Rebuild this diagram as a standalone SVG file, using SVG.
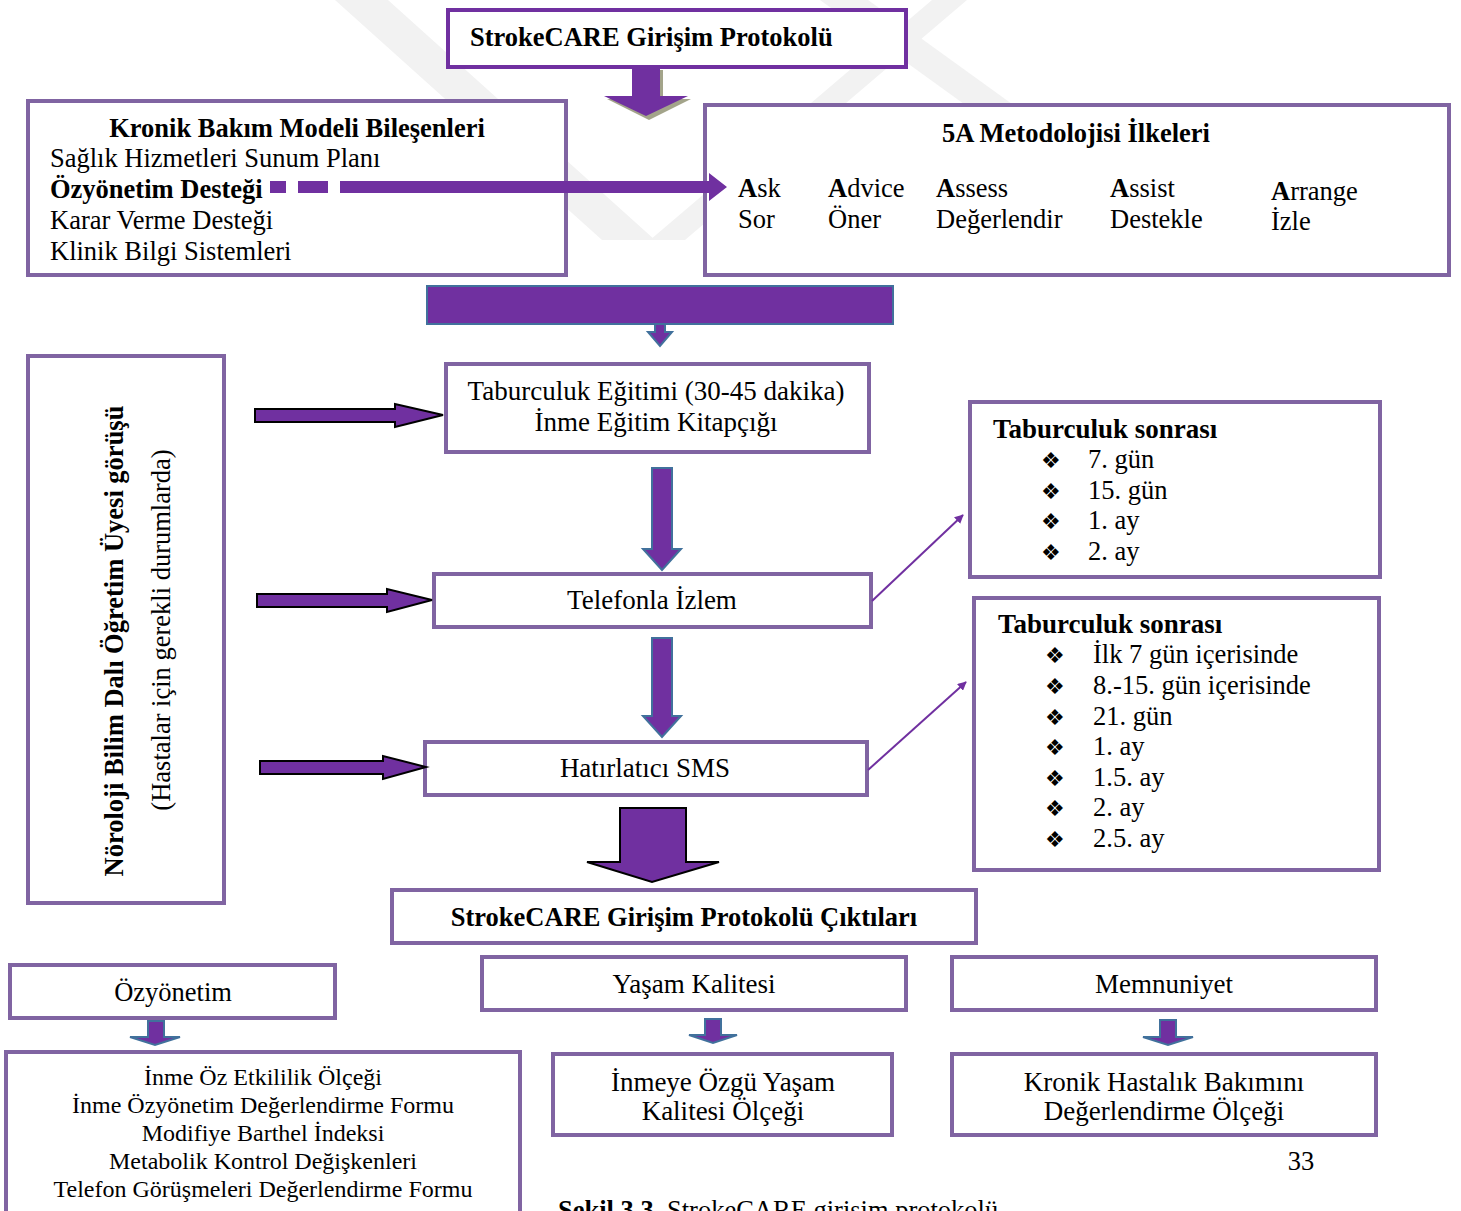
<svg xmlns="http://www.w3.org/2000/svg" width="1461" height="1211" viewBox="0 0 1461 1211">
<style>
text{font-family:"Liberation Serif","Times New Roman",serif;fill:#000;font-size:26.5px;}
.b{font-weight:bold;}
.f{font-size:27px;}
.s{font-size:24px;}
.box{fill:#fff;stroke:#8064a2;stroke-width:4;}
.tbox{fill:#fff;stroke:#7030a0;stroke-width:4;}
.blk{fill:#7030a0;stroke:#000;stroke-width:2;stroke-linejoin:miter;}
.blu{fill:#7030a0;stroke:#41719c;stroke-width:2;}
.thin{stroke:#7030a0;stroke-width:2;fill:none;}
.bul{font-family:"DejaVu Sans",sans-serif;font-size:22px;}
.wm{fill:#f2f2f2;}
</style>
<defs>
<marker id="ah" viewBox="0 0 10 10" refX="9" refY="5" markerWidth="9" markerHeight="9" markerUnits="userSpaceOnUse" orient="auto">
<path d="M0,0 L10,5 L0,10 Z" fill="#7030a0"/>
</marker>
</defs>
<rect width="1461" height="1211" fill="#fff"/>
<g id="watermark">
<polygon class="wm" points="335,0 388,0 655,240 602,240"/>
<polygon class="wm" points="932,0 967,0 685,240 650,240"/>
<polygon class="wm" points="820,0 868,0 1012,104 964,104"/>
</g>
<g id="title">
<rect class="tbox" x="448" y="10" width="458" height="57"/>
<text class="b" x="470" y="46">StrokeCARE Girişim Protokolü</text>
</g>
<g id="kronik">
<rect class="box" x="28" y="101" width="538" height="174"/>
<text class="b" x="297" y="137" text-anchor="middle">Kronik Bakım Modeli Bileşenleri</text>
<text x="50" y="167">Sağlık Hizmetleri Sunum Planı</text>
<text class="b" x="50" y="198">Özyönetim Desteği</text>
<text x="50" y="229">Karar Verme Desteği</text>
<text x="50" y="260">Klinik Bilgi Sistemleri</text>
</g>
<g id="fiveA">
<rect class="box" x="705" y="105" width="744" height="170"/>
<text class="b" x="1076" y="142" text-anchor="middle">5A Metodolojisi İlkeleri</text>
<text x="738" y="197"><tspan class="b">A</tspan>sk</text>
<text x="738" y="228">Sor</text>
<text x="828" y="197"><tspan class="b">A</tspan>dvice</text>
<text x="828" y="228">Öner</text>
<text x="936" y="197"><tspan class="b">A</tspan>ssess</text>
<text x="936" y="228">Değerlendir</text>
<text x="1110" y="197"><tspan class="b">A</tspan>ssist</text>
<text x="1110" y="228">Destekle</text>
<text x="1271" y="200"><tspan class="b">A</tspan>rrange</text>
<text x="1271" y="230">İzle</text>
</g>
<g id="noroloji">
<rect class="box" x="28" y="356" width="196" height="547"/>
<text class="b" x="0" y="0" text-anchor="middle" transform="translate(123,641) rotate(-90)">Nöroloji Bilim Dalı Öğretim Üyesi görüşü</text>
<text x="0" y="0" text-anchor="middle" transform="translate(170,630) rotate(-90)">(Hastalar için gerekli durumlarda)</text>
</g>
<g id="egitim">
<rect class="box" x="446" y="364" width="423" height="88"/>
<text class="f" x="656" y="400" text-anchor="middle">Taburculuk Eğitimi (30-45 dakika)</text>
<text class="f" x="656" y="431" text-anchor="middle">İnme Eğitim Kitapçığı</text>
</g>
<g id="telefon">
<rect class="box" x="434" y="574" width="437" height="53"/>
<text class="f" x="652" y="609" text-anchor="middle">Telefonla İzlem</text>
</g>
<g id="sms">
<rect class="box" x="425" y="742" width="442" height="53"/>
<text class="f" x="645" y="777" text-anchor="middle">Hatırlatıcı SMS</text>
</g>
<g id="taburculuk1">
<rect class="box" x="970" y="402" width="410" height="175"/>
<text class="b f" x="993" y="438">Taburculuk sonrası</text>
<text class="bul" x="1041" y="468">❖</text><text x="1088" y="468">7. gün</text>
<text class="bul" x="1041" y="499">❖</text><text x="1088" y="499">15. gün</text>
<text class="bul" x="1041" y="529">❖</text><text x="1088" y="529">1. ay</text>
<text class="bul" x="1041" y="560">❖</text><text x="1088" y="560">2. ay</text>
</g>
<g id="taburculuk2">
<rect class="box" x="974" y="598" width="405" height="272"/>
<text class="b f" x="998" y="633">Taburculuk sonrası</text>
<text class="bul" x="1045" y="663">❖</text><text x="1093" y="663">İlk 7 gün içerisinde</text>
<text class="bul" x="1045" y="694">❖</text><text x="1093" y="694">8.-15. gün içerisinde</text>
<text class="bul" x="1045" y="725">❖</text><text x="1093" y="725">21. gün</text>
<text class="bul" x="1045" y="755">❖</text><text x="1093" y="755">1. ay</text>
<text class="bul" x="1045" y="786">❖</text><text x="1093" y="786">1.5. ay</text>
<text class="bul" x="1045" y="816">❖</text><text x="1093" y="816">2. ay</text>
<text class="bul" x="1045" y="847">❖</text><text x="1093" y="847">2.5. ay</text>
</g>
<g id="ciktilar">
<rect class="box" x="392" y="890" width="584" height="53"/>
<text class="b" x="684" y="926" text-anchor="middle">StrokeCARE Girişim Protokolü Çıktıları</text>
</g>
<g id="ozyonetim">
<rect class="box" x="10" y="965" width="325" height="53"/>
<text x="173" y="1001" text-anchor="middle">Özyönetim</text>
</g>
<g id="olcekler">
<rect class="box" x="6" y="1052" width="514" height="170"/>
<text class="s" x="263" y="1085" text-anchor="middle">İnme Öz Etkililik Ölçeği</text>
<text class="s" x="263" y="1113" text-anchor="middle">İnme Özyönetim Değerlendirme Formu</text>
<text class="s" x="263" y="1141" text-anchor="middle">Modifiye Barthel İndeksi</text>
<text class="s" x="263" y="1169" text-anchor="middle">Metabolik Kontrol Değişkenleri</text>
<text class="s" x="263" y="1197" text-anchor="middle">Telefon Görüşmeleri Değerlendirme Formu</text>
</g>
<g id="yasam">
<rect class="box" x="482" y="957" width="424" height="53"/>
<text class="f" x="694" y="993" text-anchor="middle">Yaşam Kalitesi</text>
</g>
<g id="inmeye">
<rect class="box" x="553" y="1054" width="339" height="81"/>
<text class="f" x="723" y="1091" text-anchor="middle">İnmeye Özgü Yaşam</text>
<text class="f" x="723" y="1120" text-anchor="middle">Kalitesi Ölçeği</text>
</g>
<g id="memnuniyet">
<rect class="box" x="952" y="957" width="424" height="53"/>
<text class="f" x="1164" y="993" text-anchor="middle">Memnuniyet</text>
</g>
<g id="kronikhastalik">
<rect class="box" x="952" y="1054" width="424" height="81"/>
<text class="f" x="1164" y="1091" text-anchor="middle">Kronik Hastalık Bakımını</text>
<text class="f" x="1164" y="1120" text-anchor="middle">Değerlendirme Ölçeği</text>
</g>
<g id="connectors">
<polygon points="635,70 663,70 663,99 691,99 649,120 607,99 635,99" fill="#a3a48a"/>
<polygon points="632,67 660,67 660,96 688,96 646,116 604,96 632,96" fill="#7030a0"/>
<rect x="270" y="181" width="16" height="12" fill="#7030a0"/>
<rect x="298" y="181" width="30" height="12" fill="#7030a0"/>
<polygon points="340,181 709,181 709,173 727,187 709,201 709,193 340,193" fill="#7030a0"/>
<rect class="blu" x="427" y="286" width="466" height="38"/>
<polygon class="blu" points="655,324 665,324 665,332 672,332 660,346 648,332 655,332"/>
<polygon class="blk" points="255,409 395,409 395,404 443,415 395,427 395,422 255,422"/>
<polygon class="blk" points="257,594 387,594 387,589 432,600 387,612 387,607 257,607"/>
<polygon class="blk" points="260,761 383,761 383,756 426,767 383,779 383,774 260,774"/>
<polygon class="blu" points="652,468 672,468 672,549 681,549 662,570 643,549 652,549"/>
<polygon class="blu" points="652,638 672,638 672,716 681,716 662,737 643,716 652,716"/>
<line class="thin" x1="872" y1="601" x2="963" y2="515" marker-end="url(#ah)"/>
<line class="thin" x1="868" y1="770" x2="966" y2="682" marker-end="url(#ah)"/>
<polygon class="blk" points="620,808 686,808 686,862 719,862 652,882 587,862 620,862"/>
<polygon class="blu" points="148,1021 164,1021 164,1037 180,1037 155,1045 130,1037 148,1037"/>
<polygon class="blu" points="705,1019 721,1019 721,1035 737,1035 713,1043 689,1035 705,1035"/>
<polygon class="blu" points="1160,1020 1176,1020 1176,1037 1193,1037 1168,1045 1143,1037 1160,1037"/>
</g>
<text x="1301" y="1170" font-size="29" text-anchor="middle">33</text>
<text x="558" y="1219"><tspan class="b">Şekil 3.3.</tspan> StrokeCARE girişim protokolü</text>
</svg>
